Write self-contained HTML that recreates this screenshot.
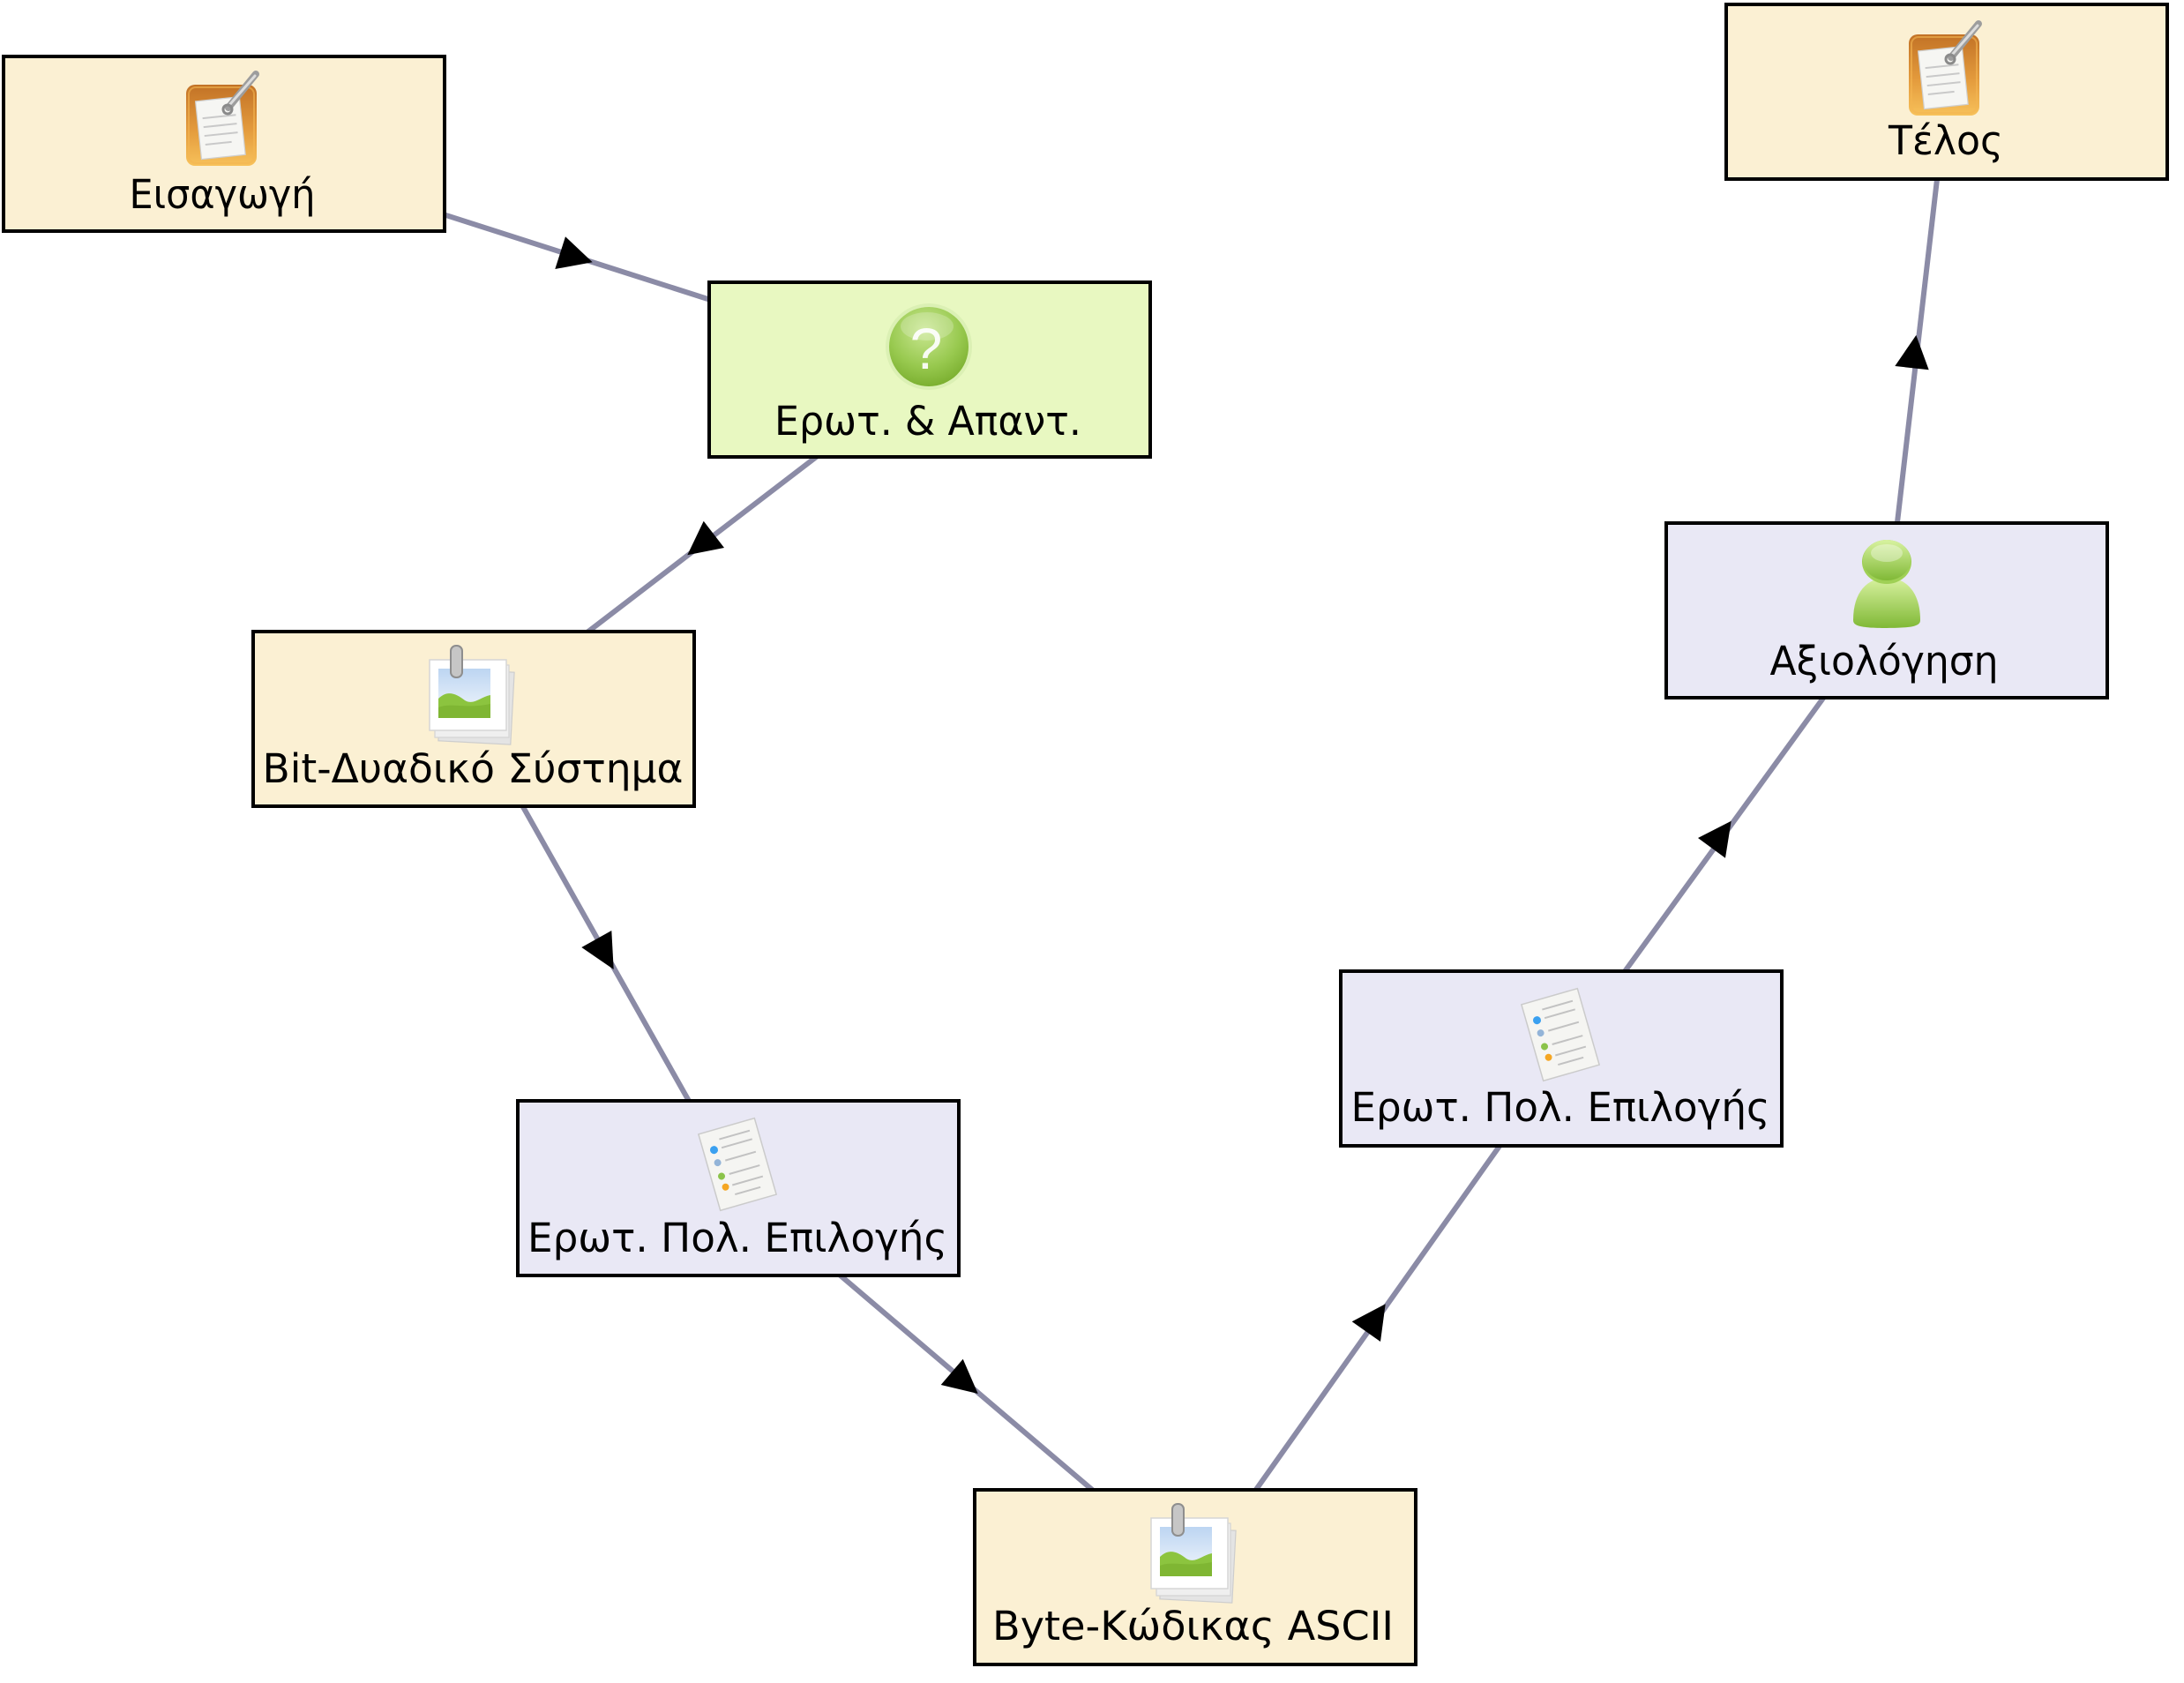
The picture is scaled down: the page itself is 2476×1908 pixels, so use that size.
<!DOCTYPE html>
<html>
<head>
<meta charset="utf-8">
<style>
html,body{margin:0;padding:0;background:#ffffff;}
svg{display:block;}
</style>
</head>
<body>
<svg width="2476" height="1908" viewBox="0 0 2476 1908" xmlns="http://www.w3.org/2000/svg" font-family="'DejaVu Sans','Liberation Sans',sans-serif">
<defs>
  <linearGradient id="gOr" x1="0" y1="0" x2="0" y2="1">
    <stop offset="0" stop-color="#c27226"/>
    <stop offset="0.55" stop-color="#e39a3c"/>
    <stop offset="1" stop-color="#f7c15a"/>
  </linearGradient>
  <radialGradient id="gQ" cx="0.45" cy="0.3" r="0.75">
    <stop offset="0" stop-color="#c9e791"/>
    <stop offset="0.6" stop-color="#98c94f"/>
    <stop offset="1" stop-color="#76ab2b"/>
  </radialGradient>
  <linearGradient id="gP" x1="0" y1="0" x2="0" y2="1">
    <stop offset="0" stop-color="#d8f2a0"/>
    <stop offset="1" stop-color="#80b936"/>
  </linearGradient>
  <linearGradient id="gSky" x1="0" y1="0" x2="0" y2="1">
    <stop offset="0" stop-color="#bcd5f2"/>
    <stop offset="1" stop-color="#f4f8fc"/>
  </linearGradient>

  <g id="icClip">
    <rect x="0" y="0" width="80" height="92" rx="10" fill="url(#gOr)"/>
    <rect x="3" y="3" width="74" height="86" rx="8" fill="none" stroke="#f3b551" stroke-width="2" opacity="0.6"/>
    <g transform="rotate(-6 40 50)">
      <rect x="14" y="16" width="50" height="66" fill="#f6f6f3" stroke="#cfcfcf" stroke-width="1.2"/>
      <line x1="20" y1="36" x2="58" y2="36" stroke="#c9c9c9" stroke-width="2"/>
      <line x1="20" y1="46" x2="58" y2="46" stroke="#c9c9c9" stroke-width="2"/>
      <line x1="20" y1="56" x2="58" y2="56" stroke="#c9c9c9" stroke-width="2"/>
      <line x1="20" y1="66" x2="50" y2="66" stroke="#c9c9c9" stroke-width="2"/>
    </g>
    <line x1="48" y1="26" x2="79" y2="-12" stroke="#9d9d9d" stroke-width="8" stroke-linecap="round"/>
    <line x1="50" y1="22" x2="78" y2="-10" stroke="#dcdcdc" stroke-width="3" stroke-linecap="round"/>
    <circle cx="47" cy="28" r="5" fill="none" stroke="#8a8a8a" stroke-width="3"/>
  </g>

  <g id="icPhoto">
    <rect x="12" y="28" width="82" height="82" fill="#e4e4e4" stroke="#cdcdcd" stroke-width="1.2" transform="rotate(3 53 69)"/>
    <rect x="6" y="22" width="84" height="82" fill="#efefef" stroke="#d3d3d3" stroke-width="1.2"/>
    <rect x="0" y="16" width="87" height="80" fill="#ffffff" stroke="#d6d6d6" stroke-width="1.5"/>
    <rect x="10" y="26" width="59" height="56" fill="url(#gSky)"/>
    <path d="M10 60 C 20 50, 30 54, 40 62 C 50 68, 58 58, 69 56 L69 82 L10 82 Z" fill="#8cc43f"/>
    <path d="M10 70 C 24 64, 40 72, 69 66 L69 82 L10 82 Z" fill="#79b12f" opacity="0.7"/>
    <rect x="24" y="0" width="13" height="36" rx="6" fill="#c6c6c6" stroke="#8e8e8e" stroke-width="2"/>
  </g>

  <g id="icList">
    <g transform="rotate(-16)">
      <rect x="-33" y="-45" width="66" height="90" fill="#f5f5f2" stroke="#cbcbcb" stroke-width="1.5"/>
      <line x1="-12" y1="-33" x2="24" y2="-33" stroke="#c2c2c2" stroke-width="2"/>
      <line x1="-12" y1="-23" x2="24" y2="-23" stroke="#c2c2c2" stroke-width="2"/>
      <line x1="-12" y1="-8" x2="24" y2="-8" stroke="#c2c2c2" stroke-width="2"/>
      <line x1="-12" y1="8" x2="24" y2="8" stroke="#c2c2c2" stroke-width="2"/>
      <line x1="-12" y1="21" x2="24" y2="21" stroke="#c2c2c2" stroke-width="2"/>
      <line x1="-12" y1="32" x2="18" y2="32" stroke="#c2c2c2" stroke-width="2"/>
      <circle cx="-21" cy="-23" r="4.5" fill="#3aa0f0"/>
      <circle cx="-21" cy="-8" r="4" fill="#93b4d8"/>
      <circle cx="-21" cy="8" r="4" fill="#8bc34a"/>
      <circle cx="-20" cy="21" r="4" fill="#f5a623"/>
    </g>
  </g>
</defs>

<!-- connectors -->
<g stroke="#8b8ba6" stroke-width="6" fill="none" stroke-linecap="butt">
  <line x1="254" y1="163.5" x2="1054" y2="419.5"/>
  <line x1="1054" y1="419.5" x2="537" y2="815.5"/>
  <line x1="537" y1="815.5" x2="837" y2="1347.5"/>
  <line x1="837" y1="1347.5" x2="1354" y2="1787.5"/>
  <line x1="1354" y1="1787.5" x2="1770" y2="1200.5"/>
  <line x1="1770" y1="1200.5" x2="2139.5" y2="691.5"/>
  <line x1="2139.5" y1="691.5" x2="2207.5" y2="104"/>
</g>

<!-- arrowheads -->
<g fill="#000000">
  <polygon points="641,268.3 629.3,305 671.7,297.3"/>
  <polygon points="797.7,590.7 779.3,629.3 821,621"/>
  <polygon points="693.3,1055 659.3,1074 695.7,1099"/>
  <polygon points="1091.7,1540.7 1066.7,1570 1108.7,1580"/>
  <polygon points="1570.7,1478.3 1532.7,1498.3 1565,1521"/>
  <polygon points="1962.7,930.7 1925,950 1956,972.7"/>
  <polygon points="2172.3,380 2148.3,415 2186.7,419.3"/>
</g>

<!-- Node 1: Εισαγωγή -->
<g transform="translate(2,62)">
  <rect x="2" y="2" width="500" height="198" fill="#fbf0d3" stroke="#000" stroke-width="4"/>
  <use href="#icClip" transform="translate(209,34)"/>
  <text x="250" y="174" font-size="45" text-anchor="middle" textLength="211" lengthAdjust="spacingAndGlyphs" fill="#000">Εισαγωγή</text>
</g>

<!-- Node 2: Ερωτ. & Απαντ. -->
<g transform="translate(802,318)">
  <rect x="2" y="2" width="500" height="198" fill="#e8f8c1" stroke="#000" stroke-width="4"/>
  <circle cx="251" cy="75" r="49" fill="#d6ecae" opacity="0.7"/>
  <circle cx="251" cy="75" r="45" fill="url(#gQ)"/>
  <ellipse cx="249" cy="52" rx="30" ry="16" fill="#ffffff" opacity="0.22"/>
  <text x="248" y="100" font-size="66" text-anchor="middle" fill="#ffffff" opacity="0.92" font-family="'Liberation Sans',sans-serif">?</text>
  <text x="250" y="175" font-size="45" text-anchor="middle" textLength="348" lengthAdjust="spacingAndGlyphs" fill="#000">Ερωτ. &amp; Απαντ.</text>
</g>

<!-- Node 3: Bit-Δυαδικό Σύστημα -->
<g transform="translate(285,714)">
  <rect x="2" y="2" width="500" height="198" fill="#fbf0d3" stroke="#000" stroke-width="4"/>
  <use href="#icPhoto" transform="translate(202,18)"/>
  <text x="251" y="173" font-size="45" text-anchor="middle" textLength="477" lengthAdjust="spacingAndGlyphs" fill="#000">Bit-Δυαδικό Σύστημα</text>
</g>

<!-- Node 4: Ερωτ. Πολ. Επιλογής (left) -->
<g transform="translate(585,1246)">
  <rect x="2" y="2" width="500" height="198" fill="#e9e8f5" stroke="#000" stroke-width="4"/>
  <use href="#icList" transform="translate(251,74)"/>
  <text x="251" y="173" font-size="45" text-anchor="middle" textLength="476" lengthAdjust="spacingAndGlyphs" fill="#000">Ερωτ. Πολ. Επιλογής</text>
</g>

<!-- Node 5: Byte-Κώδικας ASCII -->
<g transform="translate(1103,1687)">
  <rect x="2" y="2" width="500" height="198" fill="#fbf0d3" stroke="#000" stroke-width="4"/>
  <use href="#icPhoto" transform="translate(202,18)"/>
  <text x="249.5" y="172" font-size="45" text-anchor="middle" textLength="455" lengthAdjust="spacingAndGlyphs" fill="#000">Byte-Κώδικας ASCII</text>
</g>

<!-- Node 6: Ερωτ. Πολ. Επιλογής (right) -->
<g transform="translate(1518,1099)">
  <rect x="2" y="2" width="500" height="198" fill="#e9e8f5" stroke="#000" stroke-width="4"/>
  <use href="#icList" transform="translate(251,74)"/>
  <text x="251" y="172" font-size="45" text-anchor="middle" textLength="475" lengthAdjust="spacingAndGlyphs" fill="#000">Ερωτ. Πολ. Επιλογής</text>
</g>

<!-- Node 7: Αξιολόγηση -->
<g transform="translate(1887,591)">
  <rect x="2" y="2" width="500" height="198" fill="#e9e8f5" stroke="#000" stroke-width="4"/>
  <path d="M214 112 C214 80, 230 64, 252 64 C274 64, 290 80, 290 112 C290 118, 284 121, 252 121 C220 121, 214 118, 214 112 Z" fill="url(#gP)"/>
  <ellipse cx="252" cy="46" rx="28" ry="25" fill="#9fd055"/>
  <ellipse cx="252" cy="44" rx="27" ry="23" fill="url(#gP)"/>
  <ellipse cx="252" cy="36" rx="18" ry="10" fill="#ffffff" opacity="0.35"/>
  <text x="249" y="174" font-size="45" text-anchor="middle" textLength="259" lengthAdjust="spacingAndGlyphs" fill="#000">Αξιολόγηση</text>
</g>

<!-- Node 8: Τέλος -->
<g transform="translate(1955,3)">
  <rect x="2" y="2" width="500" height="198" fill="#fbf0d3" stroke="#000" stroke-width="4"/>
  <use href="#icClip" transform="translate(209,36)"/>
  <text x="251" y="172" font-size="45" text-anchor="middle" textLength="130" lengthAdjust="spacingAndGlyphs" fill="#000">Τέλος</text>
</g>
</svg>
</body>
</html>
